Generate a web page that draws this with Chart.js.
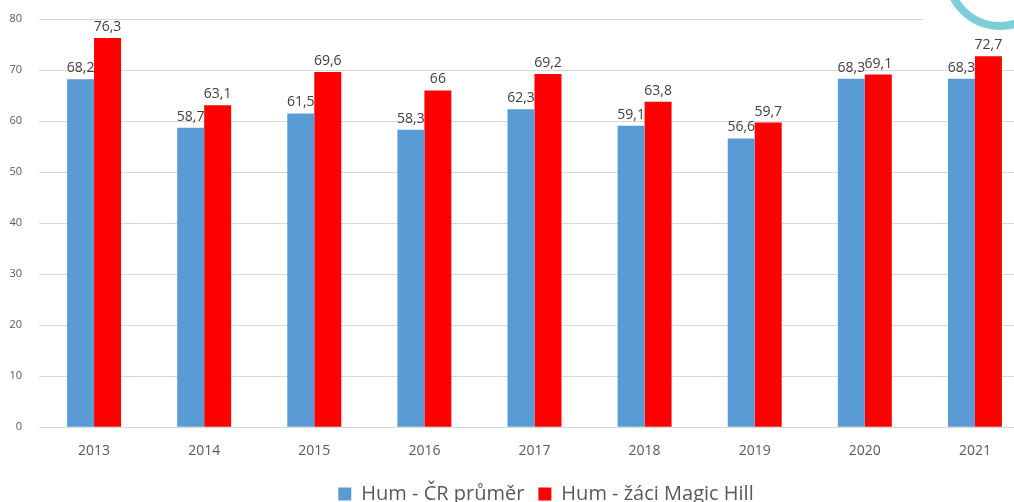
<!DOCTYPE html>
<html>
<head>
<meta charset="utf-8">
<script src="https://cdn.jsdelivr.net/npm/chart.js@4"></script>
<style>
html,body{margin:0;padding:0;background:#fff;overflow:hidden;}
#wrap{width:1030px;height:514px;position:relative;}
</style>
</head>
<body>
<div id="wrap"><canvas id="c" width="1030" height="514"></canvas></div>
<script>
const categories = ['2013','2014','2015','2016','2017','2018','2019','2020','2021'];
const crPrumer = [68.2, 58.7, 61.5, 58.3, 62.3, 59.1, 56.6, 68.3, 68.3];
const magicHill = [76.3, 63.1, 69.6, 66, 69.2, 63.8, 59.7, 69.1, 72.7];
const seriesNames = ['Hum - ČR průměr', 'Hum - žáci Magic Hill'];

const fmt = v => String(v).replace('.', ',');

const labelPlugin = {
  id: 'valueLabels',
  afterDatasetsDraw(chart) {
    const ctx = chart.ctx;
    ctx.save();
    ctx.font = '14px "Open Sans", "DejaVu Sans", sans-serif';
    ctx.fillStyle = '#404040';
    ctx.textAlign = 'center';
    ctx.textBaseline = 'bottom';
    chart.data.datasets.forEach((ds, di) => {
      const meta = chart.getDatasetMeta(di);
      meta.data.forEach((bar, i) => {
        ctx.fillText(fmt(ds.data[i]), bar.x, bar.y - 4);
      });
    });
    ctx.restore();
  }
};

const legendShift = {
  id: 'legendShift',
  afterLayout(chart) {
    if (chart.legend) { chart.legend.left += 31; chart.legend.right += 31; }
  }
};

const decoPlugin = {
  id: 'deco',
  afterDraw(chart) {
    const ctx = chart.ctx;
    ctx.save();
    ctx.fillStyle = '#ffffff';
    ctx.fillRect(923, 0, 120, 29);
    ctx.beginPath();
    ctx.strokeStyle = '#7ccfd6';
    ctx.lineWidth = 8;
    ctx.arc(1000, -26, 52, 0, Math.PI);
    ctx.stroke();
    ctx.restore();
  }
};

new Chart(document.getElementById('c'), {
  type: 'bar',
  data: {
    labels: categories,
    datasets: [
      { label: seriesNames[0], data: crPrumer, backgroundColor: '#5b9bd5', borderWidth: 0 },
      { label: seriesNames[1], data: magicHill, backgroundColor: '#ff0000', borderWidth: 0 }
    ]
  },
  options: {
    responsive: false,
    animation: false,
    datasets: { bar: { categoryPercentage: 0.49, barPercentage: 1 } },
    layout: { padding: { top: 19, left: 0, right: 0, bottom: 0 } },
    plugins: {
      legend: {
        position: 'bottom',
        labels: {
          font: { size: 20, family: '"Open Sans", "DejaVu Sans", sans-serif' },
          color: '#595959',
          boxWidth: 13,
          boxHeight: 13,
          padding: 14
        }
      },
      tooltip: { enabled: false }
    },
    scales: {
      x: {
        grid: { display: false },
        border: { color: '#d9d9d9' },
        ticks: { color: '#595959', font: { size: 14, family: '"Open Sans", "DejaVu Sans", sans-serif' }, padding: 7 },
        afterFit(scale) { scale.height += 4; scale.paddingLeft = 0; scale.paddingRight = 0; }
      },
      y: {
        min: 0, max: 80,
        ticks: { stepSize: 10, color: '#595959', font: { size: 11, family: '"Open Sans", "DejaVu Sans", sans-serif' }, padding: 17 },
        grid: { color: '#d9d9d9', drawTicks: false },
        border: { display: false },
        afterFit(scale) { scale.width = 39; scale.paddingTop = 0; scale.paddingBottom = 0; }
      }
    }
  },
  plugins: [labelPlugin, legendShift, decoPlugin]
});
</script>
</body>
</html>
